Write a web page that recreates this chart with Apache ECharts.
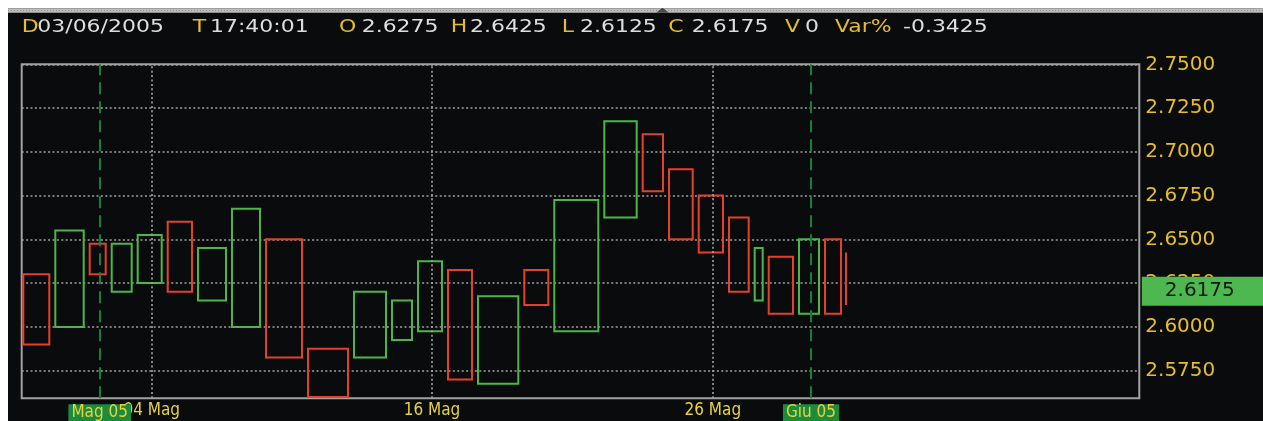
<!DOCTYPE html>
<html>
<head>
<meta charset="utf-8">
<script src="https://cdn.jsdelivr.net/npm/echarts@6/dist/echarts.min.js"></script>
<style>
  html, body { margin: 0; padding: 0; background: #ffffff; }
  #chart { width: 1263px; height: 421px; }
</style>
</head>
<body>
<div id="chart"></div>
<script>
// Daily bars 28 Apr - 3 Jun 2005, equivolume: box spans high..low, width = volume
const highs   = [2.6300, 2.6550, 2.6475, 2.6475, 2.6525, 2.6600, 2.6450, 2.6675, 2.6500, 2.5875,
                 2.6200, 2.6150, 2.6375, 2.6325, 2.6175, 2.6325, 2.6725, 2.7175, 2.7100, 2.6900,
                 2.6750, 2.6625, 2.6450, 2.6400, 2.6500, 2.6500, 2.6425];
const lows    = [2.5900, 2.6000, 2.6300, 2.6200, 2.6250, 2.6200, 2.6150, 2.6000, 2.5825, 2.5600,
                 2.5825, 2.5925, 2.5975, 2.5700, 2.5675, 2.6125, 2.5975, 2.6625, 2.6775, 2.6500,
                 2.6425, 2.6200, 2.6150, 2.6075, 2.6075, 2.6075, 2.6125];
const volumes = [320, 344, 220, 260, 300, 303, 340, 340, 420, 460,
                 380, 260, 300, 300, 463, 300, 500, 384, 263, 297,
                 303, 257, 140, 303, 260, 220, 0];
const rising  = [0, 1, 0, 1, 1, 0, 1, 1, 0, 0,
                 1, 1, 1, 0, 1, 0, 1, 1, 0, 0,
                 0, 0, 1, 0, 1, 0, 0];

// last session
const lastDate = '03/06/2005';
const lastTime = '17:40:01';
const lastOpen = 2.6275;
const lastClose = 2.6175;
const lastVarPct = '-0.3425';

// date markers: bar index, text, month start or not
const markerBars   = [4, 12, 20, 2, 24];
const markerLabels = ['04 Mag', '16 Mag', '26 Mag', 'Mag 05', 'Giu 05'];
const markerMonth  = [false, false, false, true, true];

// price scale
const yTicks = [2.575, 2.600, 2.625, 2.650, 2.675, 2.700, 2.725, 2.750];
const yMin = 2.5592;
const yMax = 2.75;
const xMin = -6;
const xMax = 11170;

const headerLabels = ['D', 'T', 'O', 'H', 'L', 'C', 'V', 'Var%'];

// ---------------------------------------------------------------------------
const last = volumes.length - 1;
const starts = [];
let acc = 0;
volumes.forEach(v => { starts.push(acc); acc += v; });
const bars = volumes.map((v, i) => [starts[i], v, highs[i], lows[i], rising[i]]);

const headerValues = [lastDate, lastTime, lastOpen.toFixed(4), highs[last].toFixed(4),
  lows[last].toFixed(4), lastClose.toFixed(4), String(volumes[last]), lastVarPct];

const UP = '#4cb748';
const DOWN = '#e5402b';
const GOLD = '#e6bd2a';
const LABEL_YELLOW = '#e9d33a';
const GRID_DOT = '#a3a3a3';
const GAP = 6;

const headerLabelX = [21.7, 192.7, 339, 450.7, 561.7, 668.3, 785, 835];
const headerValueX = [37.3, 210, 361.7, 470, 580, 691.7, 805, 903];
const headerFont = '18px "DejaVu Sans"';
const headerGraphics = [];
headerLabels.forEach((lab, i) => {
  headerGraphics.push({
    type: 'text', x: headerLabelX[i], y: 27.5, scaleX: 1.22, z: 10,
    style: { text: lab, fill: GOLD, font: headerFont, verticalAlign: 'middle', textVerticalAlign: 'middle' }
  });
  headerGraphics.push({
    type: 'text', x: headerValueX[i], y: 27.5, scaleX: 1.22, z: 10,
    style: { text: headerValues[i], fill: '#dedede', font: headerFont, verticalAlign: 'middle', textVerticalAlign: 'middle' }
  });
});

const frameGraphics = [
  { type: 'rect', shape: { x: 0, y: 0, width: 1263, height: 8.3 }, style: { fill: '#ffffff' }, z: 5 },
  { type: 'rect', shape: { x: 0, y: 0, width: 8, height: 421 }, style: { fill: '#ffffff' }, z: 5 },
  { type: 'rect', shape: { x: 8, y: 8.3, width: 1255, height: 4.4 }, style: { fill: '#bdbdbd' }, z: 5 },
  { type: 'line', shape: { x1: 8, y1: 10.5, x2: 1263, y2: 10.5 },
    style: { stroke: '#8c8c8c', lineWidth: 1, lineDash: [1, 2] }, z: 6 },
  { type: 'polygon', shape: { points: [[656, 12.7], [662.5, 7.8], [669, 12.7]] },
    style: { fill: '#4a4a4a' }, z: 7 }
];

const dateLines = markerBars.map((b, k) => {
  const month = markerMonth[k];
  return {
    xAxis: starts[b] + volumes[b] / 2,
    lineStyle: month
      ? { color: '#12803e', type: [12, 7], width: 2, opacity: 1 }
      : { color: GRID_DOT, type: [2, 2.4], width: 1.6, opacity: 1 },
    label: {
      show: true,
      position: 'start',
      formatter: markerLabels[k],
      distance: month ? 6 : 3.5,
      color: LABEL_YELLOW,
      fontFamily: '"DejaVu Sans Condensed", "Liberation Sans Narrow", "DejaVu Sans"',
      fontSize: 17,
      lineHeight: 17,
      backgroundColor: month ? '#1b8b3c' : 'transparent',
      padding: month ? [0, 3, 4, 3] : 0
    }
  };
});

// closing price tag on the right edge
const priceTag = {
  yAxis: lastClose,
  lineStyle: { color: 'rgba(0,0,0,0)', width: 1, opacity: 1 },
  label: {
    show: true,
    opacity: 1,
    position: 'end',
    distance: 2.5,
    formatter: p => Number(p.value).toFixed(4),
    color: '#151515',
    fontFamily: '"DejaVu Sans"',
    fontSize: 20,
    lineHeight: 20,
    backgroundColor: '#4cb84f',
    padding: [6, 40, 3, 23],
    offset: [0, -5]
  }
};

const chart = echarts.init(document.getElementById('chart'), null, { renderer: 'canvas' });

chart.setOption({
  animation: false,
  backgroundColor: '#0a0b0d',
  grid: {
    left: 21.7, right: 123.7, top: 64.3, bottom: 22.7,
    show: true, borderColor: '#a2a2a2', borderWidth: 2, backgroundColor: 'transparent'
  },
  xAxis: {
    type: 'value', min: xMin, max: xMax, show: false
  },
  yAxis: {
    type: 'value', position: 'right', min: yMin, max: yMax, scale: true,
    axisLine: { show: false },
    axisTick: { show: false, customValues: yTicks },
    axisLabel: {
      customValues: yTicks,
      formatter: v => v.toFixed(4),
      color: GOLD, fontFamily: '"DejaVu Sans"', fontSize: 20, margin: 6
    },
    splitLine: { show: true, lineStyle: { color: GRID_DOT, type: [2, 2.4], width: 1.6 } }
  },
  graphic: frameGraphics.concat(headerGraphics),
  series: [{
    type: 'custom',
    data: bars,
    encode: { x: 0, y: [2, 3] },
    clip: false,
    renderItem: (params, api) => {
      const s = api.value(0), v = api.value(1), hi = api.value(2), lo = api.value(3);
      const color = api.value(4) ? UP : DOWN;
      const p0 = api.coord([s, hi]);
      const p1 = api.coord([s + v, lo]);
      if (v === 0) {
        return {
          type: 'line',
          shape: { x1: p0[0], y1: p0[1], x2: p0[0], y2: p1[1] },
          style: { stroke: color, lineWidth: 2, fill: null }
        };
      }
      return {
        type: 'rect',
        shape: { x: p0[0] + 1, y: p0[1], width: p1[0] - p0[0] - GAP, height: p1[1] - p0[1] },
        style: { fill: 'none', stroke: color, lineWidth: 2 }
      };
    },
    markLine: {
      silent: true,
      precision: 4,
      symbol: ['none', 'none'],
      animation: false,
      emphasis: { disabled: true },
      data: dateLines.concat([priceTag])
    }
  }]
});
</script>
</body>
</html>
